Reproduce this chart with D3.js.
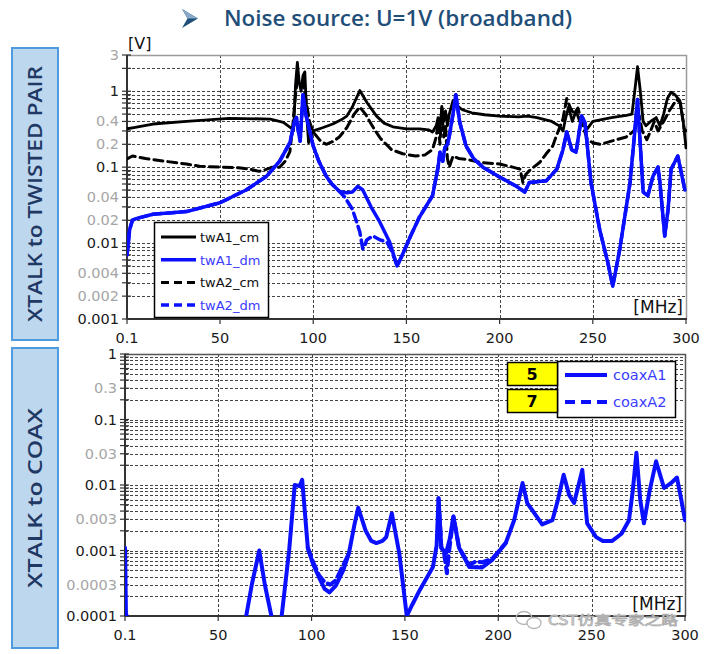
<!DOCTYPE html>
<html>
<head>
<meta charset="utf-8">
<script src="https://cdn.jsdelivr.net/npm/d3@7"></script>
<style>
  body { margin: 0; background: #fff; }
  svg { display: block; }
</style>
</head>
<body>
<svg width="704" height="654"></svg>
<script>
// ---- data: [frequency MHz, value] ----
const twA1_cm = [[0.1,0.32],[3,0.33],[14,0.37],[32,0.4],[55,0.44],[77,0.43],[84,0.39],[88,0.33],[89.5,0.31],[90.5,1.2],[91.5,2.4],[92.5,1.3],[93.5,1.0],[94.5,1.6],[95.5,1.8],[96.5,0.5],[97.5,0.21],[100,0.3],[105,0.33],[110.5,0.37],[115,0.42],[118,0.47],[121,0.62],[125,1.02],[129,0.7],[134,0.47],[138,0.38],[142.7,0.34],[150,0.32],[157,0.32],[162,0.31],[164,0.29],[166,0.35],[167,0.45],[168,0.3],[169,0.63],[170,0.4],[171,0.55],[172,0.35],[173,0.5],[175,0.75],[177,0.65],[180,0.57],[185,0.52],[192,0.49],[200,0.47],[210,0.46],[215,0.47],[220,0.45],[228,0.4],[232,0.35],[234,0.3],[235.5,0.45],[237,0.62],[239,0.4],[241,0.55],[243,0.4],[245,0.38],[247,0.32],[250,0.4],[260,0.45],[268,0.48],[271,0.5],[272.5,1.0],[274,2.1],[275.5,1.0],[277,0.4],[278.5,0.35],[281,0.4],[284,0.45],[286,0.35],[288,0.5],[290,0.8],[292,0.97],[294,0.9],[296.7,0.75],[298.5,0.4],[300,0.18]];

const twA2_cm = [[0.1,0.128],[3,0.14],[10,0.13],[20,0.12],[32,0.11],[39,0.103],[50,0.1],[60,0.098],[66,0.094],[71,0.088],[74,0.092],[78,0.1],[82,0.1],[85,0.12],[87.5,0.16],[89,0.35],[90.5,0.9],[91.5,1.4],[93,1.2],[94.5,1.3],[96.5,0.67],[98,0.4],[100,0.29],[104,0.22],[107,0.2],[111,0.22],[114,0.25],[118,0.33],[122,0.5],[125,0.62],[128,0.5],[132,0.34],[136,0.24],[142,0.17],[148,0.15],[155,0.14],[160,0.145],[164,0.17],[166,0.25],[167,0.4],[168,0.2],[169,0.6],[170,0.25],[171,0.35],[172,0.13],[173,0.1],[175,0.14],[178,0.13],[182,0.127],[190,0.115],[200,0.11],[207,0.1],[211,0.094],[212.5,0.063],[214,0.08],[216,0.09],[221.6,0.116],[225,0.15],[228.5,0.19],[231,0.28],[234,0.43],[236,0.8],[238,0.6],[240,0.5],[242,0.6],[244,0.4],[247,0.23],[250,0.21],[254,0.2],[260,0.22],[268,0.25],[272,0.3],[275,0.47],[276.5,0.3],[279,0.23],[281,0.3],[283,0.4],[285,0.3],[288,0.4],[291,0.55],[295,0.78],[297,0.7],[299,0.32],[300,0.3]];

const twA1_dm = [[0.1,0.007],[0.6,0.009],[1.5,0.015],[3,0.02],[5,0.021],[14,0.024],[32,0.026],[50,0.034],[64,0.05],[75,0.076],[82,0.12],[87.5,0.21],[90,0.4],[91,0.45],[92,0.3],[93,0.22],[94.5,0.9],[96,0.5],[100,0.19],[103,0.12],[107,0.076],[110,0.06],[114,0.048],[118,0.046],[121,0.047],[124,0.056],[126.6,0.05],[131,0.03],[135.7,0.019],[141,0.0103],[145,0.005],[147.5,0.0067],[152,0.012],[157,0.022],[164,0.042],[167,0.1],[168,0.157],[169.5,0.12],[170.6,0.18],[172,0.2],[173,0.255],[175,0.5],[176.5,0.9],[178.6,0.39],[182,0.19],[186,0.13],[191,0.1],[200,0.074],[209,0.056],[213.5,0.047],[216,0.063],[225,0.066],[230.7,0.094],[234,0.17],[236,0.29],[238.7,0.17],[241,0.157],[244,0.47],[245.8,0.39],[249,0.063],[253.7,0.015],[258,0.0056],[260.7,0.0027],[264.5,0.0084],[270,0.063],[272.5,0.29],[274,0.78],[277,0.047],[279.5,0.042],[282.3,0.076],[285,0.1],[286,0.063],[288.6,0.0124],[290.4,0.028],[292,0.094],[295.6,0.14],[299.4,0.05]];

// twA2_dm runs on twA1_dm except where it splits off between ~112 and ~145 MHz
const twA2_dmSplit = [[110,0.06],[114,0.048],[117,0.04],[121,0.028],[123,0.02],[125,0.014],[126.6,0.0084],[127.5,0.009],[128.7,0.011],[132,0.0124],[136,0.011],[139.5,0.0103],[142,0.008],[145,0.005]];
const twA2_dm = twA1_dm.filter(d => d[0] < 110).concat(twA2_dmSplit, twA1_dm.filter(d => d[0] > 145));

// null = below the 0.0001 axis floor / no separate trace
const coaxA1 = [[0.1,0.0011],[0.3,0.0005],[0.6,0.00011],[1,0.0001],[2,null],[65,0.0001],[68,0.0003],[72,0.001],[75,0.0003],[78.5,0.0001],[80,null],[84,0.0001],[88,0.001],[91,0.01],[93.6,0.0096],[95,0.012],[98,0.0011],[101,0.0006],[104,0.00039],[107,0.00026],[109.6,0.00023],[113,0.00029],[117,0.0005],[120,0.0009],[123,0.0025],[125,0.0045],[129,0.002],[132,0.0014],[134.7,0.0013],[138,0.0014],[140,0.0016],[143,0.0037],[147,0.0009],[151,0.0001],[154,0.00015],[158,0.00025],[165,0.00056],[167,0.0012],[168,0.0063],[169.5,0.0011],[172,0.0009],[174,0.0015],[176,0.0033],[179,0.0011],[184.5,0.00056],[191.4,0.00055],[196.8,0.00072],[204,0.0013],[208.5,0.0029],[213,0.0107],[215.5,0.0053],[218,0.0042],[223.5,0.0025],[229,0.0029],[232,0.006],[235,0.0143],[238,0.007],[240.6,0.0053],[245,0.017],[247.6,0.0026],[252.4,0.0016],[256,0.0014],[261,0.0014],[266,0.0018],[270,0.0029],[272,0.008],[274,0.031],[276,0.006],[278,0.0026],[281,0.008],[284.5,0.023],[288.8,0.009],[293,0.011],[295.7,0.013],[298,0.006],[300,0.0029]];

const coaxA2 = [[98,0.0011],[101,0.00065],[104,0.00042],[107,0.00033],[110,0.0003],[113,0.00035],[117,0.0006],[120,0.0009],[121,null],[168,0.0063],[169.5,0.0011],[171,0.0009],[172.5,0.00045],[173.5,0.0009],[176,0.0033],[179,0.0011],[184.5,0.0006],[188,0.00068],[191.4,0.00066],[196.8,0.00075],[204,0.0013]];

const xTicks = [0.1, 50, 100, 150, 200, 250, 300];
const xGrid = [50, 100, 150, 200, 250];
const topLabels = [3, 1, 0.4, 0.2, 0.1, 0.04, 0.02, 0.01, 0.004, 0.002, 0.001];
const botLabels = [1, 0.3, 0.1, 0.03, 0.01, 0.003, 0.001, 0.0003, 0.0001];

const svg = d3.select("svg");
const blue = "#0a10ff";

// ---- title ----
svg.append("path")
  .attr("d", "M182,9 L198,18.5 L182,28 L187.5,18.5 Z")
  .attr("fill", "#1F4E79");
svg.append("path")
  .attr("d", "M182,9 L198,18.5 L187.5,18.5 Z")
  .attr("fill", "#8aa9c9");
svg.append("text")
  .attr("x", 224).attr("y", 26)
  .attr("font-family", "Open Sans").attr("font-weight", 600).attr("font-size", 22)
  .attr("textLength", 348).attr("lengthAdjust", "spacingAndGlyphs")
  .attr("fill", "#1F4E79")
  .text("Noise source: U=1V (broadband)");

// ---- side boxes ----
const sideBoxes = [
  { y0: 48, y1: 340, label: "XTALK to TWISTED PAIR", len: 256 },
  { y0: 348, y1: 648, label: "XTALK to COAX", len: 180 }
];
sideBoxes.forEach(b => {
  svg.append("rect")
    .attr("x", 12).attr("y", b.y0).attr("width", 46).attr("height", b.y1 - b.y0)
    .attr("fill", "#BDD7EE").attr("stroke", "#4F9BE0").attr("stroke-width", 2);
  const cy = (b.y0 + b.y1) / 2;
  svg.append("text")
    .attr("transform", `translate(42,${cy}) rotate(-90)`)
    .attr("text-anchor", "middle")
    .attr("font-family", "Open Sans").attr("font-weight", 600).attr("font-size", 19)
    .attr("textLength", b.len).attr("lengthAdjust", "spacingAndGlyphs")
    .attr("fill", "#1F3864")
    .text(b.label);
});

function logGridValues(lo, hi) {
  const vals = [];
  for (let e = Math.floor(Math.log10(lo)); e <= Math.ceil(Math.log10(hi)); e++) {
    for (let k = 1; k <= 9; k++) {
      const v = +(k * Math.pow(10, e)).toPrecision(6);
      if (v >= lo * 0.999 && v <= hi * 1.001) vals.push(v);
    }
  }
  return vals;
}

function drawPanel(opt) {
  const x = d3.scaleLinear().domain([0.1, 300]).range([opt.x0, opt.x1]);
  const y = d3.scaleLog().domain(opt.yDomain).range([opt.y1, opt.y0]);
  const g = svg.append("g");
  const clipId = "clip" + opt.id;
  svg.append("clipPath").attr("id", clipId)
    .append("rect").attr("x", opt.x0).attr("y", opt.y0 - 2)
    .attr("width", opt.x1 - opt.x0 + 1).attr("height", opt.y1 - opt.y0 + 2);

  const gridVals = logGridValues(opt.yDomain[0], opt.yDomain[1]);
  // horizontal grid
  g.selectAll(".hg").data(gridVals.filter(v => v > opt.yDomain[0] && v < opt.yDomain[1]))
    .join("line")
    .attr("x1", opt.x0).attr("x2", opt.x1)
    .attr("y1", d => Math.round(y(d)) + 0.5).attr("y2", d => Math.round(y(d)) + 0.5)
    .attr("stroke", "#444").attr("stroke-width", 1).attr("stroke-dasharray", "3,2");
  // vertical grid
  g.selectAll(".vg").data(xGrid).join("line")
    .attr("x1", d => Math.round(x(d)) + 0.5).attr("x2", d => Math.round(x(d)) + 0.5)
    .attr("y1", opt.y0).attr("y2", opt.y1)
    .attr("stroke", "#444").attr("stroke-width", 1).attr("stroke-dasharray", "3,2");
  // plot border top/right
  g.append("path")
    .attr("d", `M${opt.x0},${opt.y0 + 0.5} H${opt.x1 + 0.5} V${opt.y1}`)
    .attr("fill", "none").attr("stroke", opt.borderColor).attr("stroke-width", 1.5);

  // y axis line + ticks
  g.append("line").attr("x1", opt.x0).attr("x2", opt.x0).attr("y1", opt.y0).attr("y2", opt.y1)
    .attr("stroke", "#333").attr("stroke-width", 2);
  g.selectAll(".yt").data(gridVals).join("line")
    .attr("x1", opt.x0 - 5).attr("x2", opt.x0 + 4)
    .attr("y1", d => y(d)).attr("y2", d => y(d))
    .attr("stroke", "#333").attr("stroke-width", 1.2);
  // x axis line + ticks
  g.append("line").attr("x1", opt.x0).attr("x2", opt.x1 + 1).attr("y1", opt.y1).attr("y2", opt.y1)
    .attr("stroke", "#333").attr("stroke-width", 2);
  g.selectAll(".xt").data(xTicks).join("line")
    .attr("x1", d => x(d)).attr("x2", d => x(d))
    .attr("y1", opt.y1).attr("y2", opt.y1 + 5)
    .attr("stroke", "#333").attr("stroke-width", 1.2);

  // y labels
  g.selectAll(".yl").data(opt.labels).join("text")
    .attr("x", opt.x0 - 8).attr("y", d => y(d) + 5)
    .attr("text-anchor", "end")
    .attr("font-family", "DejaVu Sans").attr("font-size", 14.5)
    .attr("fill", d => Number.isInteger(Math.log10(d)) ? "#1a1a1a" : "#a6a6a6")
    .text(d => String(d));
  // x labels
  g.selectAll(".xl").data(xTicks).join("text")
    .attr("x", d => x(d)).attr("y", opt.y1 + 24)
    .attr("text-anchor", "middle")
    .attr("font-family", "DejaVu Sans").attr("font-size", 14.5)
    .attr("fill", "#1a1a1a")
    .text(d => String(d));

  // unit label
  svg.append("text")
    .attr("x", opt.x1 - 3).attr("y", opt.y1 - 6)
    .attr("text-anchor", "end")
    .attr("font-family", "DejaVu Sans").attr("font-size", 17)
    .attr("fill", "#111")
    .text("[MHz]");

  const line = d3.line()
    .defined(d => d[1] != null)
    .x(d => x(d[0]))
    .y(d => y(d[1]));
  const lg = svg.append("g").attr("clip-path", `url(#${clipId})`);
  opt.series.forEach(s => {
    lg.append("path")
      .datum(s.data)
      .attr("d", line)
      .attr("fill", "none")
      .attr("stroke", s.color)
      .attr("stroke-width", s.width)
      .attr("stroke-dasharray", s.dash || null)
      .attr("stroke-linejoin", "round")
      .attr("stroke-linecap", "round");
  });
  return { x, y };
}

drawPanel({
  id: "top", x0: 127, x1: 686, y0: 55, y1: 319,
  yDomain: [0.001, 3], labels: topLabels, borderColor: "#9a9a9a",
  series: [
    { data: twA2_cm, color: "#000", width: 3, dash: "9,5" },
    { data: twA1_cm, color: "#000", width: 2.8 },
    { data: twA2_dm, color: blue, width: 3.5, dash: "9,5" },
    { data: twA1_dm, color: blue, width: 3.5 }
  ]
});

drawPanel({
  id: "bot", x0: 125, x1: 685, y0: 354, y1: 616,
  yDomain: [0.0001, 1], labels: botLabels, borderColor: "#555",
  series: [
    { data: coaxA1, color: blue, width: 4 },
    { data: coaxA2, color: blue, width: 4, dash: "9,5" }
  ]
});

// [V] label
svg.append("text")
  .attr("x", 128).attr("y", 49)
  .attr("font-family", "DejaVu Sans").attr("font-size", 16)
  .attr("fill", "#111").text("[V]");

// ---- legend top ----
const topLegend = [
  { name: "twA1_cm", color: "#000", text: "#111", width: 3, dash: null },
  { name: "twA1_dm", color: blue, text: "#3b3bff", width: 3.5, dash: null },
  { name: "twA2_cm", color: "#000", text: "#111", width: 3, dash: "8,5" },
  { name: "twA2_dm", color: blue, text: "#3b3bff", width: 3.5, dash: "8,5" }
];
const lgT = svg.append("g");
lgT.append("rect").attr("x", 154.5).attr("y", 222.5).attr("width", 114).attr("height", 95)
  .attr("fill", "#fff").attr("stroke", "#000").attr("stroke-width", 1.5);
lgT.selectAll(".li").data(topLegend).join("line")
  .attr("x1", 161).attr("x2", 196)
  .attr("y1", (d, i) => 237 + i * 22.7).attr("y2", (d, i) => 237 + i * 22.7)
  .attr("stroke", d => d.color).attr("stroke-width", d => d.width)
  .attr("stroke-dasharray", d => d.dash);
lgT.selectAll(".lt").data(topLegend).join("text")
  .attr("x", 200).attr("y", (d, i) => 242 + i * 22.7)
  .attr("font-family", "DejaVu Sans").attr("font-size", 13)
  .attr("fill", d => d.text).text(d => d.name);

// ---- legend bottom ----
const botLegend = [
  { name: "coaxA1", tag: "5", dash: null },
  { name: "coaxA2", tag: "7", dash: "10,6" }
];
const lgB = svg.append("g");
lgB.append("rect").attr("x", 557.5).attr("y", 361.5).attr("width", 118).attr("height", 56)
  .attr("fill", "#fff").attr("stroke", "#000").attr("stroke-width", 1.5);
lgB.selectAll(".tag").data(botLegend).join("rect")
  .attr("x", 507.5).attr("y", (d, i) => 362.5 + i * 27).attr("width", 50).attr("height", 23)
  .attr("fill", "#ffff00").attr("stroke", "#000").attr("stroke-width", 1.5);
lgB.selectAll(".tagt").data(botLegend).join("text")
  .attr("x", 532).attr("y", (d, i) => 380 + i * 27)
  .attr("text-anchor", "middle")
  .attr("font-family", "DejaVu Sans").attr("font-weight", "bold").attr("font-size", 16)
  .attr("fill", "#000").text(d => d.tag);
lgB.selectAll(".li").data(botLegend).join("line")
  .attr("x1", 565).attr("x2", 607)
  .attr("y1", (d, i) => 375 + i * 27).attr("y2", (d, i) => 375 + i * 27)
  .attr("stroke", blue).attr("stroke-width", 4)
  .attr("stroke-dasharray", d => d.dash);
lgB.selectAll(".lt").data(botLegend).join("text")
  .attr("x", 613).attr("y", (d, i) => 380 + i * 27)
  .attr("font-family", "DejaVu Sans").attr("font-size", 14.5)
  .attr("fill", "#3b3bff").text(d => d.name);

// ---- watermark ----
const wm = svg.append("g").attr("fill", "none").attr("stroke", "#b5b5b5").attr("stroke-width", 1.3);
wm.append("ellipse").attr("cx", 524).attr("cy", 618).attr("rx", 8).attr("ry", 6.5);
wm.append("ellipse").attr("cx", 534).attr("cy", 623).attr("rx", 7).attr("ry", 5.5).attr("fill", "#fff");
svg.append("text")
  .attr("x", 548).attr("y", 625)
  .attr("font-family", "Noto Sans CJK SC").attr("font-size", 12.5)
  .attr("textLength", 130).attr("lengthAdjust", "spacingAndGlyphs")
  .attr("fill", "#fff").attr("stroke", "#b0b0b0").attr("stroke-width", 0.8)
  .text("CST仿真专家之路");
</script>
</body>
</html>
